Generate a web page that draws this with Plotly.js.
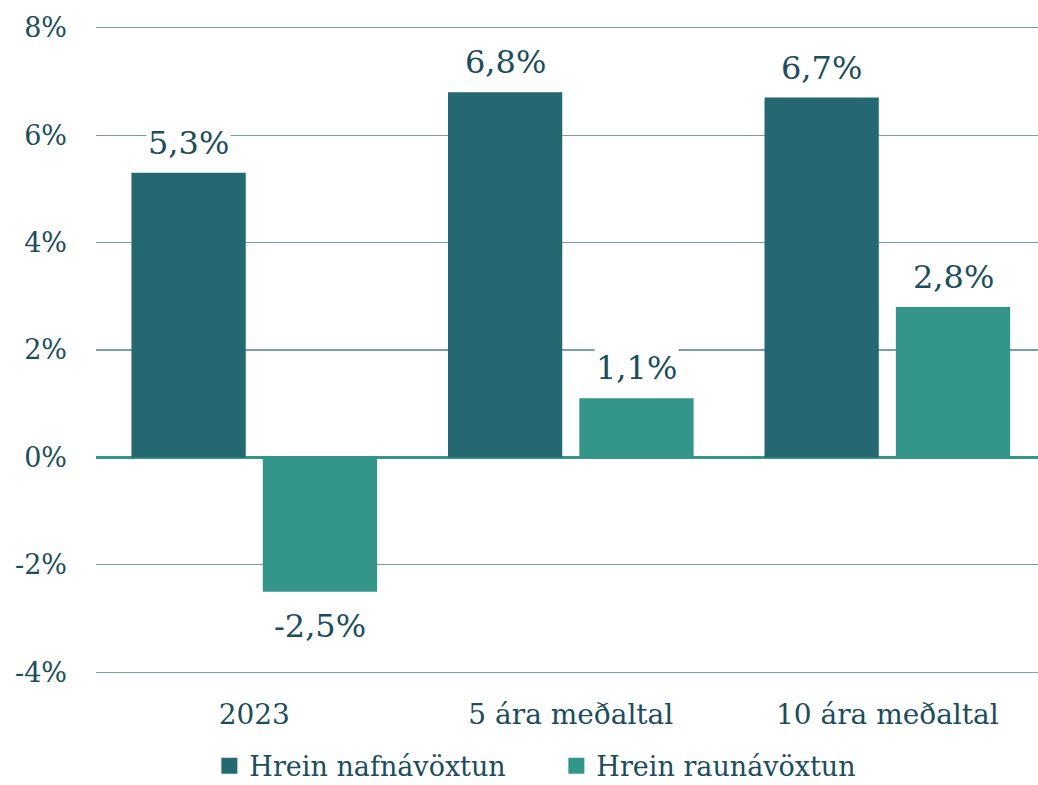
<!DOCTYPE html>
<html>
<head>
<meta charset="utf-8">
<script src="https://cdn.plot.ly/plotly-3.0.1.min.js"></script>
<style>html,body{margin:0;padding:0;background:#fff;}#chart{width:1038px;height:785px;}</style>
</head>
<body>
<div id="chart"></div>
<script>
const categories = ["2023", "5 ára meðaltal", "10 ára meðaltal"];
const seriesNames = ["Hrein nafnávöxtun", "Hrein raunávöxtun"];
const nominal = [5.3, 6.8, 6.7];
const real = [-2.5, 1.1, 2.8];
const yTickVals = [-4, -2, 0, 2, 4, 6, 8];
const yTickText = ["-4%", "-2%", "0%", "2%", "4%", "6%", "8%"];

const darkColor = "#246872";
const lightColor = "#339688";
const textColor = "#1b4d5c";
const fontFamily = "DejaVu Serif, Georgia, serif";

const bargap = 0.17;
const bargroupgap = 0.13;
const slot = (1 - bargap) / 2;

function fmt(v) { return v.toFixed(1).replace(".", ",") + "%"; }

const traces = [
  { type: "bar", name: seriesNames[0], x: categories, y: nominal, marker: { color: darkColor }, hoverinfo: "skip", showlegend: false },
  { type: "bar", name: seriesNames[1], x: categories, y: real, marker: { color: lightColor }, hoverinfo: "skip", showlegend: false },
  { type: "scatter", mode: "markers", name: seriesNames[0], x: [null], y: [null], marker: { symbol: "square", size: 18, color: darkColor }, showlegend: true },
  { type: "scatter", mode: "markers", name: seriesNames[1], x: [null], y: [null], marker: { symbol: "square", size: 18, color: lightColor }, showlegend: true }
];

const annotations = [];
[nominal, real].forEach((series, si) => {
  series.forEach((v, i) => {
    annotations.push({
      x: i + (si === 0 ? -slot / 2 : slot / 2),
      y: v,
      xref: "x", yref: "y",
      text: fmt(v),
      showarrow: false,
      yanchor: v >= 0 ? "bottom" : "top",
      yshift: v >= 0 ? 9 : -13,
      bgcolor: "#ffffff",
      borderpad: 1,
      font: { family: fontFamily, size: 32, color: textColor }
    });
  });
});

const layout = {
  width: 1038, height: 785,
  margin: { l: 96, r: 0, t: 25, b: 110 },
  paper_bgcolor: "#ffffff", plot_bgcolor: "#ffffff",
  barmode: "group", bargap: bargap, bargroupgap: bargroupgap,
  font: { family: fontFamily, color: textColor, size: 27 },
  xaxis: {
    type: "category",
    range: [-0.5, 2.476],
    showgrid: false, zeroline: false, showline: false, ticks: "",
    tickfont: { family: fontFamily, size: 28, color: textColor },
    ticklabelstandoff: 20
  },
  yaxis: {
    range: [-4.05, 8.05],
    tickvals: yTickVals, ticktext: yTickText,
    showgrid: true, gridcolor: "#7a9ea5", gridwidth: 1.2,
    zeroline: true, zerolinecolor: lightColor, zerolinewidth: 3,
    showline: false, ticks: "",
    tickfont: { family: fontFamily, size: 27, color: textColor },
    ticklabelstandoff: 28
  },
  showlegend: true,
  legend: {
    orientation: "h", xref: "container", x: 0.536, xanchor: "center",
    yref: "container", y: 0.024, yanchor: "middle",
    font: { family: fontFamily, size: 27, color: textColor },
    itemwidth: 30,
    entrywidth: 302, entrywidthmode: "pixels",
    traceorder: "normal"
  },
  annotations: annotations
};

Plotly.newPlot("chart", traces, layout, { staticPlot: true, displayModeBar: false });
</script>
</body>
</html>
